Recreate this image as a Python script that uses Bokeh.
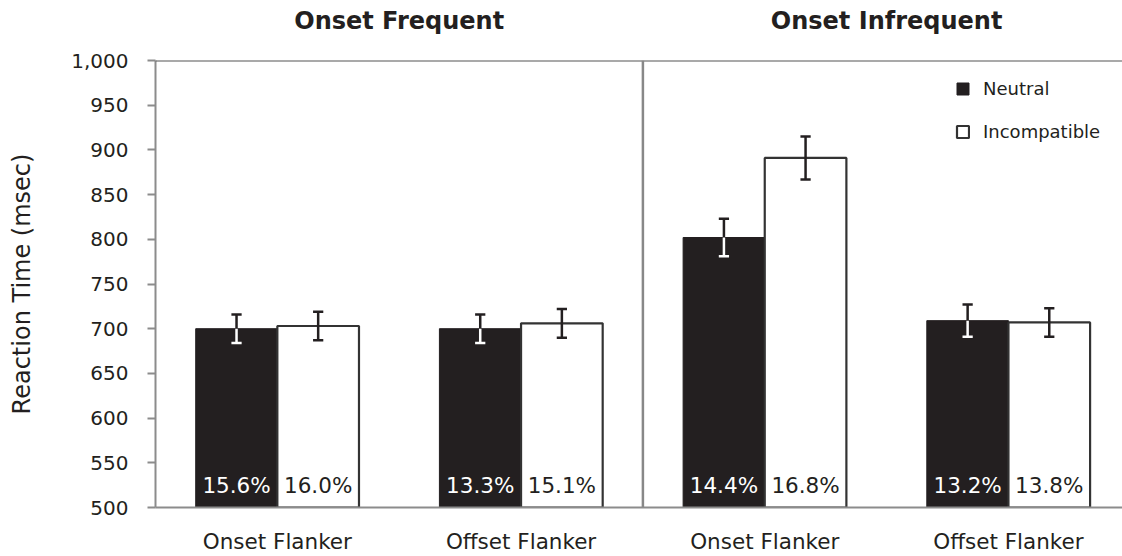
from bokeh.plotting import figure
from bokeh.models import (Range1d, FixedTicker, NumeralTickFormatter, Span, Label,
                          LabelSet, Legend, LegendItem, ColumnDataSource)
from bokeh.core.properties import value
from bokeh.embed import file_html
from bokeh.resources import INLINE

# ---- data ----
panels = ["Onset Frequent", "Onset Infrequent"]
flankers = ["Onset Flanker", "Offset Flanker", "Onset Flanker", "Offset Flanker"]
neutral_rt = [700, 700, 802, 709]
neutral_err = [16, 16, 21, 18]
incompatible_rt = [703, 706, 891, 707]
incompatible_err = [16, 16, 24, 16]
neutral_pct = ["15.6%", "13.3%", "14.4%", "13.2%"]
incompatible_pct = ["16.0%", "15.1%", "16.8%", "13.8%"]
y_ticks = [500, 550, 600, 650, 700, 750, 800, 850, 900, 950, 1000]

DARK = "#231f20"
FONT = "DejaVu Sans"

centers = [i + 0.5 for i in range(len(flankers))]
off = 0.1675
bw = 0.335
nx = [c - off for c in centers]
ix = [c + off for c in centers]
base = y_ticks[0]

p = figure(width=1122, height=556, x_range=Range1d(0, 3.968),
           y_range=Range1d(y_ticks[0], y_ticks[-1]),
           output_backend="svg", toolbar_location=None,
           min_border_left=155, min_border_right=0, min_border_top=60,
           min_border_bottom=47)
p.outline_line_color = None
p.xgrid.visible = False
p.ygrid.visible = False
p.background_fill_color = "white"
p.border_fill_color = "white"

# bars
rn = p.vbar(x=nx, top=neutral_rt, bottom=base, width=bw,
            fill_color=DARK, line_color=DARK, line_width=1)
ri = p.vbar(x=ix, top=incompatible_rt, bottom=base, width=bw,
            fill_color="white", line_color="#333333", line_width=2.2)

# error bars
cap = 0.021
ex = nx + ix
em = neutral_rt + incompatible_rt
ee = neutral_err + incompatible_err
lowcol = ["white"] * len(nx) + [DARK] * len(ix)
up = [m + e for m, e in zip(em, ee)]
lo = [m - e for m, e in zip(em, ee)]
p.segment(x0=ex, y0=em, x1=ex, y1=up, line_color=DARK, line_width=2.5)
p.segment(x0=ex, y0=lo, x1=ex, y1=em, line_color=lowcol, line_width=2.5)
p.segment(x0=[x - cap for x in ex], y0=up, x1=[x + cap for x in ex], y1=up,
          line_color=DARK, line_width=2.5)
p.segment(x0=[x - cap for x in ex], y0=lo, x1=[x + cap for x in ex], y1=lo,
          line_color=lowcol, line_width=2.5)

# percentage labels
pct_src = ColumnDataSource(dict(x=nx + ix, y=[base] * (len(nx) + len(ix)),
                                t=neutral_pct + incompatible_pct,
                                c=["white"] * len(nx) + [DARK] * len(ix)))
p.add_layout(LabelSet(x="x", y="y", text="t", source=pct_src, y_offset=22,
                      text_align="center", text_baseline="middle",
                      text_color="c", text_font=value(FONT),
                      text_font_size=value("21.5px")))

# frame lines
p.add_layout(Span(location=y_ticks[-1], dimension="width", line_color="#555555", line_width=2))
p.add_layout(Span(location=2, dimension="height", line_color="#888888", line_width=2.5))

# panel titles
for k, name in enumerate(panels):
    p.add_layout(Label(x=2 * k + 1, y=y_ticks[-1], y_offset=40, text=name,
                       text_align="center", text_baseline="middle",
                       text_font=FONT, text_font_size="24px",
                       text_font_style="bold", text_color=DARK), "above")

# axes
ya = p.yaxis[0]
ya.ticker = FixedTicker(ticks=y_ticks)
ya.formatter = NumeralTickFormatter(format="0,0")
ya.axis_line_color = "#8c8c8c"
ya.axis_line_width = 2
ya.major_tick_line_color = "#8c8c8c"
ya.major_tick_line_width = 2
ya.major_tick_out = 8
ya.major_tick_in = 0
ya.minor_tick_out = 0
ya.minor_tick_in = 0
ya.major_label_standoff = 19
ya.major_label_text_font = FONT
ya.major_label_text_font_size = "20px"
ya.major_label_text_color = DARK
ya.axis_label = "Reaction Time (msec)"
ya.axis_label_text_font = FONT
ya.axis_label_text_font_size = "24px"
ya.axis_label_text_font_style = "normal"
ya.axis_label_text_color = DARK
ya.axis_label_standoff = 32

xa = p.xaxis[0]
xa.ticker = FixedTicker(ticks=centers)
xa.major_label_overrides = {c: f for c, f in zip(centers, flankers)}
xa.axis_line_color = "#8c8c8c"
xa.axis_line_width = 2
xa.major_tick_out = 0
xa.major_tick_in = 0
xa.minor_tick_out = 0
xa.minor_tick_in = 0
xa.major_label_standoff = 21
xa.major_label_text_font = FONT
xa.major_label_text_font_size = "21.5px"
xa.major_label_text_color = DARK

# legend
legend = Legend(items=[LegendItem(label="Neutral", renderers=[rn]),
                       LegendItem(label="Incompatible", renderers=[ri])],
                location=(800, 365), orientation="vertical",
                glyph_width=15, glyph_height=15, label_height=22,
                spacing=21, padding=0, margin=0, label_standoff=13,
                label_text_font=FONT, label_text_font_size="18px",
                label_text_color=DARK, border_line_color=None,
                background_fill_alpha=0)
p.add_layout(legend)

open("out.html", "w").write(file_html(p, INLINE))
